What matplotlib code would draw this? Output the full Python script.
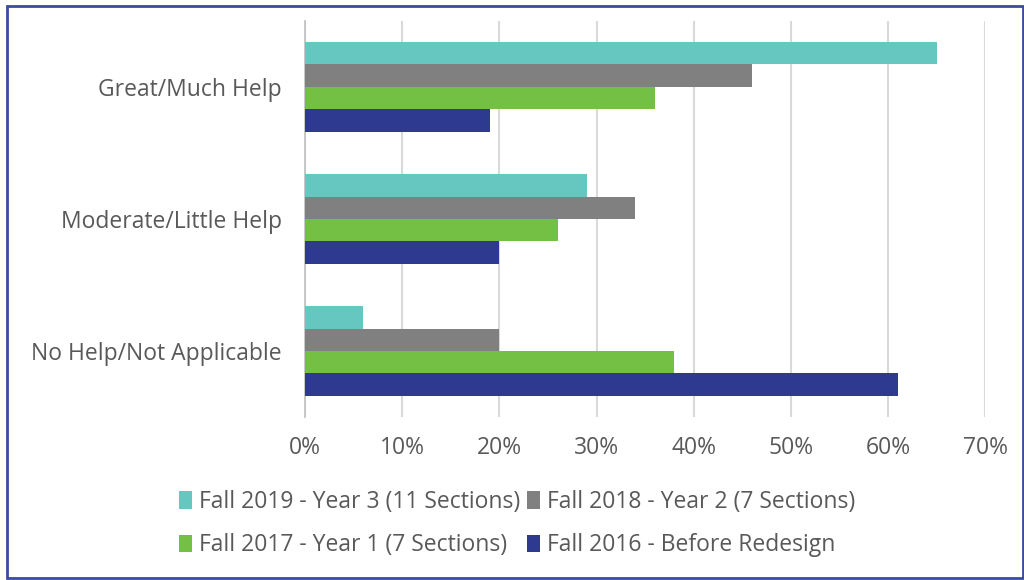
import matplotlib.pyplot as plt
from matplotlib.patches import Rectangle
import numpy as np

plt.rcParams['font.family'] = ['Open Sans', 'DejaVu Sans']

categories = ["Great/Much Help", "Moderate/Little Help", "No Help/Not Applicable"]
series = ["Fall 2019 - Year 3 (11 Sections)", "Fall 2018 - Year 2 (7 Sections)",
          "Fall 2017 - Year 1 (7 Sections)", "Fall 2016 - Before Redesign"]
fall2019 = [65, 29, 6]
fall2018 = [46, 34, 20]
fall2017 = [36, 26, 38]
fall2016 = [19, 20, 61]
colors = ["#66C7C0", "#808080", "#74C044", "#2E3A8F"]
xticks = [0, 10, 20, 30, 40, 50, 60, 70]

fig = plt.figure(figsize=(10.24, 5.8), dpi=100)
ax = fig.add_axes([0.298, 0.281, 0.664, 0.683])

y = np.arange(len(categories))
h = 0.17
for i, (vals, name, c) in enumerate(zip([fall2019, fall2018, fall2017, fall2016], series, colors)):
    ax.barh(y - 1.5 * h + i * h, vals, height=h, color=c, label=name, zorder=3)

ax.set_ylim(2.5, -0.5)
ax.set_xlim(0, 70)
ax.set_xticks(xticks)
ax.set_xticklabels([f"{t}%" for t in xticks], fontsize=16.5, color="#595959")
ax.set_yticks(y)
ax.set_yticklabels(categories, fontsize=16.5, color="#595959")
ax.tick_params(axis='x', length=0, pad=14)
ax.tick_params(axis='y', length=0, pad=17)
ax.grid(axis='x', color="#D9D9D9", linewidth=1.5, zorder=0)
for s in ["top", "right", "bottom"]:
    ax.spines[s].set_visible(False)
ax.spines["left"].set_color("#BFBFBF")
ax.spines["left"].set_linewidth(1.2)

# legend fills row by row in the reference
handles, labels = ax.get_legend_handles_labels()
order = [0, 2, 1, 3]
fig.legend([handles[k] for k in order], [labels[k] for k in order],
           loc="center", bbox_to_anchor=(0.505, 0.097), ncol=2,
           frameon=False, fontsize=16.5, labelcolor="#595959",
           handlelength=0.55, handleheight=0.8, handletextpad=0.3,
           columnspacing=0.3, labelspacing=0.85)

fig.patches.append(Rectangle((7 / 1024, 2 / 580), 1 - 8 / 1024, 1 - 8 / 580,
                             transform=fig.transFigure, fill=False,
                             edgecolor="#3B4BA0", linewidth=2))

fig.savefig("out.png", dpi=100)
